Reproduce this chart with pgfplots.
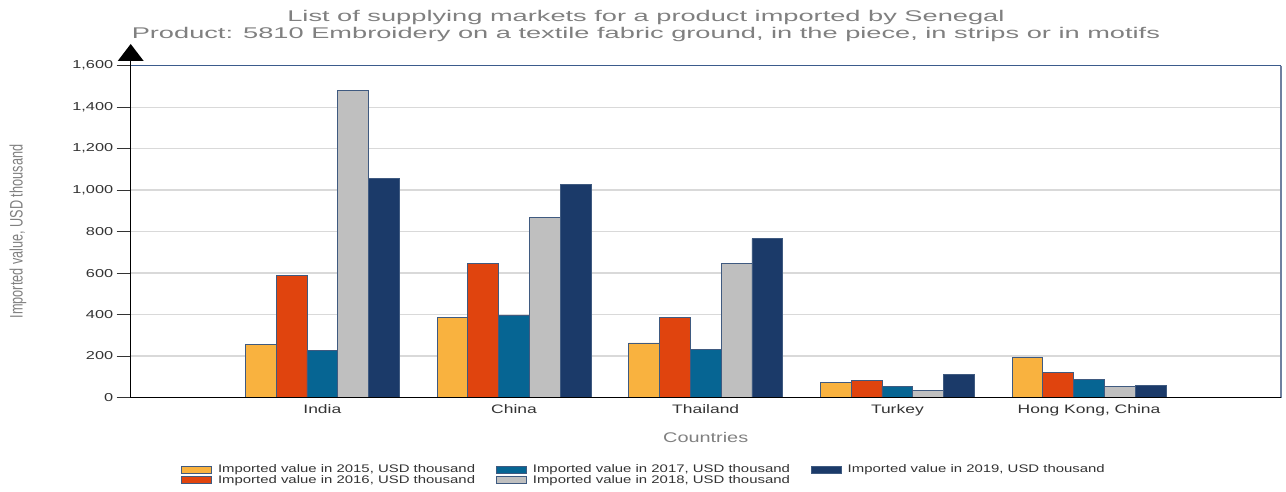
\documentclass[border=0pt]{standalone}
\usepackage{fontspec}
\setmainfont{Liberation Sans}
\usepackage{pgfplots}
\pgfplotsset{compat=1.18}
\usepackage{graphicx}
\definecolor{cA}{HTML}{F9B23F}
\definecolor{cB}{HTML}{E0440E}
\definecolor{cC}{HTML}{066593}
\definecolor{cD}{HTML}{BFBFBF}
\definecolor{cE}{HTML}{1B3A69}
\definecolor{edge}{HTML}{3F5A80}
\definecolor{txt}{HTML}{333333}
\definecolor{ttl}{HTML}{808080}
\definecolor{gridc}{HTML}{D9D9D9}
\definecolor{topc}{HTML}{3B5B8C}
\definecolor{rightc}{HTML}{7080A0}
\newcommand{\sx}[1]{\scalebox{1.42}[1]{#1}}
\newcommand{\sleg}[1]{\scalebox{1.356}[1]{#1}}
\newcommand{\sttl}[1]{\scalebox{1.756}[1]{#1}}
\begin{document}
\begin{tikzpicture}[x=1pt,y=1pt]
\useasboundingbox (0,0) rectangle (1286,491);
\begin{axis}[
  at={(130.7pt,93.5pt)}, anchor=south west,
  scale only axis, width=1150pt, height=331.8pt,
  ybar=0pt, bar width=30.8pt,
  xmin=-1, xmax=5, ymin=0, ymax=1600,
  axis line style={draw=none},
  xtick={0,1,2,3,4},
  xticklabels={\sx{India},\sx{China},\sx{Thailand},\sx{Turkey},{\sx{Hong Kong, China}}},
  xtick style={draw=none},
  xticklabel style={font=\fontsize{12.3}{14}\selectfont, text=txt, yshift=10pt},
  ytick={0,200,400,600,800,1000,1200,1400,1600},
  yticklabels={\sx{0},\sx{200},\sx{400},\sx{600},\sx{800},{\sx{1,000}},{\sx{1,200}},{\sx{1,400}},{\sx{1,600}}},
  ytick pos=left, tick align=outside, major tick length=14pt,
  ytick style={draw=txt, line width=1pt},
  yticklabel style={font=\fontsize{11.5}{13}\selectfont, text=txt},
  ymajorgrids, grid style={draw=gridc, line width=1.3pt},
  xlabel={\sx{Countries}},
  xlabel style={at={(axis description cs:0.5,-0.122)}, anchor=center, font=\fontsize{14}{16}\selectfont, text=ttl},
  ylabel={\scalebox{1}[1.42]{Imported value, USD thousand}},
  ylabel style={at={(axis description cs:-0.098,0.5)}, anchor=center, font=\fontsize{12.7}{14}\selectfont, text=ttl},
  title={\sttl{List of supplying markets for a product imported by Senegal}\\\sttl{Product: 5810 Embroidery on a textile fabric ground, in the piece, in strips or in motifs}},
  title style={at={(axis description cs:0.448,1.1016)}, anchor=center, align=center, font=\fontsize{15.5}{17.5}\selectfont, text=ttl},
  legend columns=2, transpose legend,
  legend style={at={(axis description cs:0.4455,-0.2335)}, anchor=center, draw=none,
    font=\fontsize{11}{12}\selectfont, text=txt, row sep=1pt,
    nodes={inner sep=0pt},
    /tikz/every odd column/.append style={column sep=6pt},
    /tikz/every even column/.append style={column sep=21pt}},
  legend cell align=left,
  legend image code/.code={\draw[#1] (0pt,-3.6pt) rectangle (30pt,3.6pt);},
  every axis plot/.append style={draw=edge, line width=0.8pt},
  clip=false,
]
\addplot[fill=cA] coordinates {(0,254) (1,388) (2,263) (3,74) (4,192)};
\addplot[fill=cB] coordinates {(0,588) (1,647) (2,388) (3,82) (4,119)};
\addplot[fill=cC] coordinates {(0,225) (1,396) (2,231) (3,55) (4,87)};
\addplot[fill=cD] coordinates {(0,1479) (1,869) (2,645) (3,34) (4,52)};
\addplot[fill=cE] coordinates {(0,1057) (1,1028) (2,766) (3,113) (4,58)};
\legend{\sleg{Imported value in 2015, USD thousand},\sleg{Imported value in 2016, USD thousand},\sleg{Imported value in 2017, USD thousand},\sleg{Imported value in 2018, USD thousand},\sleg{Imported value in 2019, USD thousand}}
\end{axis}
% axis frame lines
\draw[topc, line width=1.2pt] (130.7,425.3) -- (1280.7,425.3);
\draw[rightc, line width=2pt] (1280.7,425.3) -- (1280.7,93.5);
\draw[black, line width=1.4pt] (130.7,93.5) -- (1280.7,93.5);
\draw[black, line width=1.4pt] (130.7,93.5) -- (130.7,430);
\fill[black] (117.7,430) -- (143.7,430) -- (130.7,447) -- cycle;
\end{tikzpicture}
\end{document}
